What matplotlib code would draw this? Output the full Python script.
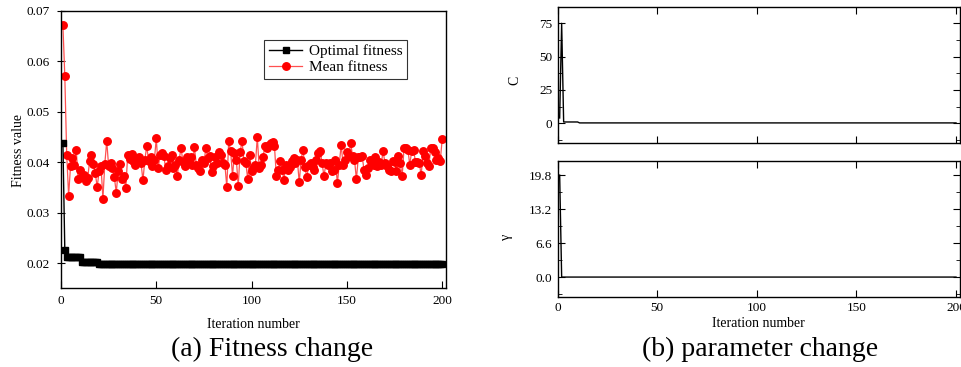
import matplotlib
matplotlib.use("Agg")
import matplotlib.pyplot as plt
from matplotlib.ticker import AutoMinorLocator

plt.rcParams['font.family'] = ['Liberation Serif', 'DejaVu Serif']
plt.rcParams['mathtext.fontset'] = 'stix'

# ---------------- data ----------------
iterations = list(range(1, 201))

mean_fitness = [
    0.0672, 0.0571, 0.0415, 0.0334, 0.0392, 0.0408, 0.0395, 0.0425, 0.0366, 0.0384,
    0.0370, 0.0375, 0.0362, 0.0368, 0.0402, 0.0415, 0.0396, 0.0378, 0.0351, 0.0382,
    0.0392, 0.0328, 0.0397, 0.0442, 0.0392, 0.0398, 0.0388, 0.0370, 0.0340, 0.0382,
    0.0397, 0.0366, 0.0372, 0.0348, 0.0415, 0.0407, 0.0417, 0.0402, 0.0395, 0.0405,
    0.0410, 0.0398, 0.0364, 0.0405, 0.0432, 0.0402, 0.0410, 0.0392, 0.0405, 0.0447,
    0.0388, 0.0415, 0.0418, 0.0412, 0.0384, 0.0392, 0.0408, 0.0415, 0.0388, 0.0395,
    0.0372, 0.0405, 0.0428, 0.0400, 0.0392, 0.0410, 0.0405, 0.0410, 0.0395, 0.0430,
    0.0395, 0.0388, 0.0382, 0.0405, 0.0398, 0.0428, 0.0408, 0.0412, 0.0380, 0.0392,
    0.0410, 0.0398, 0.0420, 0.0415, 0.0398, 0.0395, 0.0351, 0.0442, 0.0422, 0.0373,
    0.0418, 0.0405, 0.0353, 0.0420, 0.0442, 0.0402, 0.0398, 0.0366, 0.0415, 0.0383,
    0.0388, 0.0395, 0.0450, 0.0388, 0.0395, 0.0410, 0.0432, 0.0428, 0.0435, 0.0438,
    0.0440, 0.0432, 0.0372, 0.0385, 0.0402, 0.0385, 0.0365, 0.0395, 0.0385, 0.0390,
    0.0402, 0.0408, 0.0398, 0.0405, 0.0360, 0.0405, 0.0425, 0.0390, 0.0370, 0.0395,
    0.0398, 0.0390, 0.0385, 0.0405, 0.0418, 0.0422, 0.0398, 0.0372, 0.0398, 0.0395,
    0.0398, 0.0382, 0.0385, 0.0405, 0.0358, 0.0395, 0.0435, 0.0395, 0.0405, 0.0420,
    0.0412, 0.0438, 0.0412, 0.0405, 0.0366, 0.0410, 0.0410, 0.0412, 0.0385, 0.0375,
    0.0388, 0.0405, 0.0402, 0.0395, 0.0410, 0.0392, 0.0400, 0.0395, 0.0422, 0.0398,
    0.0392, 0.0385, 0.0382, 0.0402, 0.0400, 0.0382, 0.0412, 0.0398, 0.0372, 0.0428,
    0.0428, 0.0425, 0.0395, 0.0422, 0.0425, 0.0400, 0.0400, 0.0398, 0.0374, 0.0423,
    0.0412, 0.0398, 0.0392, 0.0428, 0.0428, 0.0420, 0.0405, 0.0408, 0.0403, 0.0445,
]

optimal_fitness = [0.0438, 0.0227] + [0.0212] * 8 + [0.0202] * 9 + [0.0199] * 181

param_C = [4.0, 75.0] + [1.0] * 8 + [0.3] * 190
param_gamma = [19.8] + [0.05] * 199

fit_yticks = [0.02, 0.03, 0.04, 0.05, 0.06, 0.07]
c_yticks = [0, 25, 50, 75]
g_yticks = [0.0, 6.6, 13.2, 19.8]
x_ticks = [0, 50, 100, 150, 200]

# ---------------- figure ----------------
fig = plt.figure(figsize=(9.62, 3.67), dpi=100)

# (a) fitness
ax = fig.add_axes([0.0634, 0.2153, 0.4002, 0.7556])
ax.plot(iterations, mean_fitness, color='#ff5050', lw=0.9, marker='o',
        markersize=5.4, markerfacecolor='red', markeredgecolor='red',
        label='Mean fitness', zorder=2)
ax.plot(iterations, optimal_fitness, color='black', lw=1.0, marker='s',
        markersize=4.8, markerfacecolor='black', markeredgecolor='black',
        label='Optimal fitness', zorder=3)
ax.set_xlim(0, 202)
ax.set_ylim(0.0151, 0.07)
ax.set_xticks(x_ticks)
ax.set_yticks(fit_yticks)
ax.set_yticklabels([f"{v:.2f}" for v in fit_yticks])
ax.tick_params(axis='both', direction='in', length=5, width=0.8, labelsize=9.5,
               top=False, right=False, pad=5)
ax.tick_params(axis='y', direction='inout', length=6)
for s in ax.spines.values():
    s.set_linewidth(1.0)
handles, labels = ax.get_legend_handles_labels()
leg = ax.legend(handles[::-1], labels[::-1], loc='upper left',
                bbox_to_anchor=(0.528, 0.895), fontsize=11, frameon=True,
                fancybox=False, edgecolor='black', handlelength=2.2,
                borderpad=0.3, labelspacing=0.15, handletextpad=0.4,
                borderaxespad=0.0)
leg.get_frame().set_linewidth(0.8)

fig.text(0.019, 0.59, 'Fitness value', rotation=90, ha='center', va='center',
         fontsize=10)
fig.text(0.263, 0.115, 'Iteration number', ha='center', va='center',
         fontsize=10)
fig.text(0.283, 0.047, '(a) Fitness change', ha='center', va='center',
         fontsize=20)

# (b) parameters
axc = fig.add_axes([0.5797, 0.6095, 0.4182, 0.3706])
axg = fig.add_axes([0.5797, 0.1916, 0.4182, 0.3706])

axc.plot(iterations, param_C, color='black', lw=1.0)
axc.set_xlim(0, 202)
axc.set_ylim(-15, 87)
axc.set_xticks(x_ticks)
axc.set_xticklabels([])
axc.set_yticks(c_yticks)
axc.yaxis.set_minor_locator(AutoMinorLocator(2))

axg.plot(iterations, param_gamma, color='black', lw=1.0)
axg.set_xlim(0, 202)
axg.set_ylim(-3.75, 22.6)
axg.set_xticks(x_ticks)
axg.set_yticks(g_yticks)
axg.set_yticklabels([f"{v:.1f}" for v in g_yticks])
axg.yaxis.set_minor_locator(AutoMinorLocator(2))

for a in (axc, axg):
    a.tick_params(axis='both', which='major', direction='in', length=5,
                  width=0.8, labelsize=9.5, top=True, right=True, pad=4)
    a.tick_params(axis='y', which='minor', direction='in', length=3,
                  width=0.6, right=True)
    for s in a.spines.values():
        s.set_linewidth(1.0)

fig.text(0.535, 0.782, 'C', rotation=90, ha='center', va='center', fontsize=10)
fig.text(0.527, 0.354, 'γ', rotation=90, ha='center', va='center', fontsize=10)
fig.text(0.788, 0.118, 'Iteration number', ha='center', va='center',
         fontsize=10)
fig.text(0.790, 0.047, '(b) parameter change', ha='center', va='center',
         fontsize=20)

fig.savefig('out.png', dpi=100)
